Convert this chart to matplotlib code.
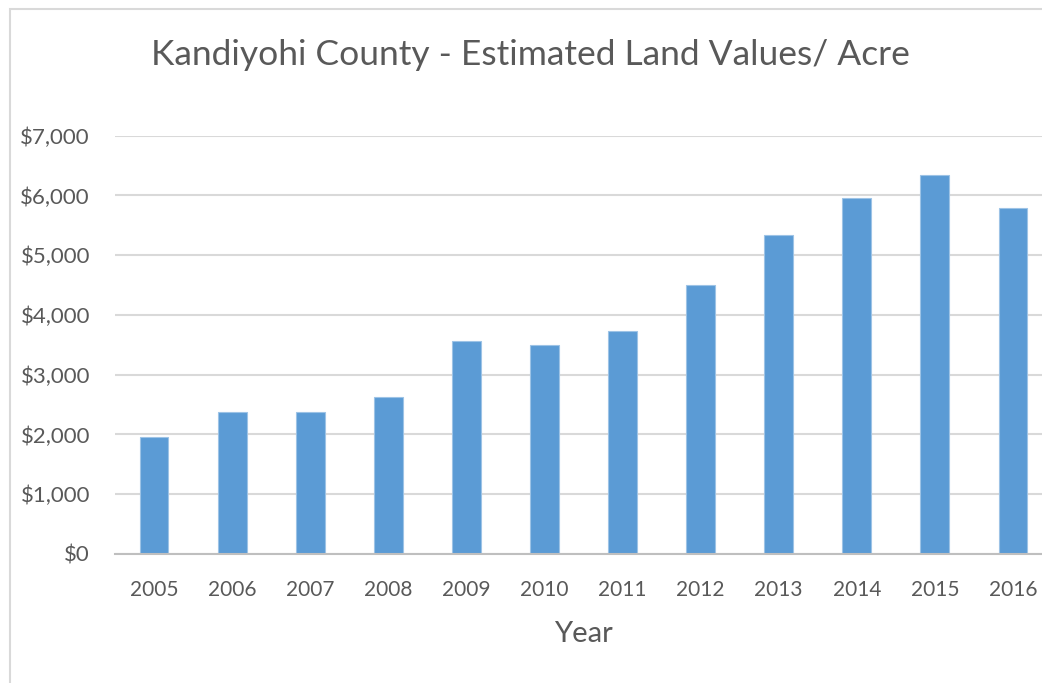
import matplotlib.pyplot as plt
from matplotlib.patches import Rectangle
from matplotlib.ticker import FuncFormatter

years = ['2005', '2006', '2007', '2008', '2009', '2010',
         '2011', '2012', '2013', '2014', '2015', '2016']
values = [1965, 2375, 2375, 2620, 3565, 3490,
          3735, 4500, 5340, 5960, 6350, 5790]

plt.rcParams['font.family'] = ['Lato', 'DejaVu Sans']

fig = plt.figure(figsize=(10.42, 6.83), dpi=100)
# chart border, cut off at right and bottom like the screenshot
fig.patches.append(Rectangle((10 / 1042, -0.1), 1.2, 1 - 9 / 683 + 0.1,
                             transform=fig.transFigure, fill=False,
                             edgecolor='#d9d9d9', linewidth=1.5))

ax = fig.add_axes([115 / 1042, 1 - 554 / 683, 937 / 1042, 418.3 / 683])
x = range(len(years))
ax.bar(x, values, width=0.37, color='#5b9bd5', edgecolor='#9dc3e6',
       linewidth=0.8, zorder=3)

ax.set_xlim(-0.5, 11.5)
ax.set_ylim(0, 7000)
ax.set_yticks(range(0, 7001, 1000))
ax.yaxis.set_major_formatter(FuncFormatter(lambda v, p: '${:,.0f}'.format(v)))
ax.set_xticks(list(x))
ax.set_xticklabels(years)

ax.grid(axis='y', color='#d9d9d9', linewidth=1.5, zorder=0)
for s in ['top', 'right', 'left']:
    ax.spines[s].set_visible(False)
ax.spines['bottom'].set_color('#bfbfbf')
ax.spines['bottom'].set_linewidth(1.5)
ax.spines['bottom'].set_zorder(4)

ax.tick_params(axis='y', length=0, pad=18, labelsize=16, labelcolor='#595959')
ax.tick_params(axis='x', length=0, pad=19, labelsize=15, labelcolor='#595959')

ax.set_xlabel('Year', fontsize=21, color='#595959', labelpad=15)
fig.text(530 / 1042, 1 - 55 / 683, 'Kandiyohi County - Estimated Land Values/ Acre',
         ha='center', va='center', fontsize=25.5, color='#595959')

fig.savefig('out.png', dpi=100)
